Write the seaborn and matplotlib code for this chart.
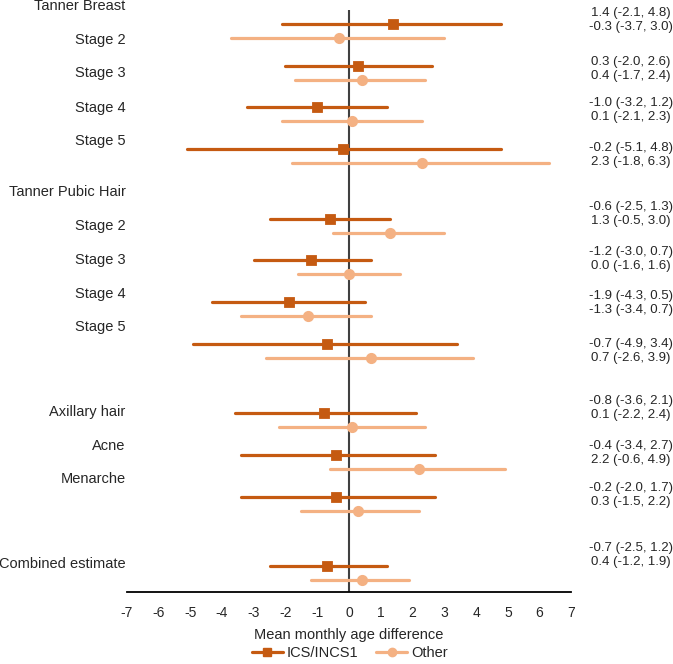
import pandas as pd
import matplotlib.pyplot as plt
import seaborn as sns
from matplotlib.lines import Line2D
from matplotlib import transforms

# row labels on the left
side_labels = ['Tanner Breast', 'Stage 2', 'Stage 3', 'Stage 4', 'Stage 5',
               'Tanner Pubic Hair', 'Stage 2', 'Stage 3', 'Stage 4', 'Stage 5',
               'Axillary hair', 'Acne', 'Menarche', 'Combined estimate']

# group of each plotted row (Tanner breast x4, pubic hair x4, others x3, combined)
row_group = [0, 0, 0, 0, 1, 1, 1, 1, 2, 2, 2, 3]

# ICS/INCS1 estimates as drawn
ics_est = [1.4, 0.3, -1.0, -0.2, -0.6, -1.2, -1.9, -0.7, -0.8, -0.4, -0.4, -0.7]
ics_lo = [-2.1, -2.0, -3.2, -5.1, -2.5, -3.0, -4.3, -4.9, -3.6, -3.4, -3.4, -2.5]
ics_hi = [4.8, 2.6, 1.2, 4.8, 1.3, 0.7, 0.5, 3.4, 2.1, 2.7, 2.7, 1.2]

# Other estimates
oth_est = [-0.3, 0.4, 0.1, 2.3, 1.3, 0.0, -1.3, 0.7, 0.1, 2.2, 0.3, 0.4]
oth_lo = [-3.7, -1.7, -2.1, -1.8, -0.5, -1.6, -3.4, -2.6, -2.2, -0.6, -1.5, -1.2]
oth_hi = [3.0, 2.4, 2.3, 6.3, 3.0, 1.6, 0.7, 3.9, 2.4, 4.9, 2.2, 1.9]

# text column on the right
ics_text = ['1.4 (-2.1, 4.8)', '0.3 (-2.0, 2.6)', '-1.0 (-3.2, 1.2)', '-0.2 (-5.1, 4.8)',
            '-0.6 (-2.5, 1.3)', '-1.2 (-3.0, 0.7)', '-1.9 (-4.3, 0.5)', '-0.7 (-4.9, 3.4)',
            '-0.8 (-3.6, 2.1)', '-0.4 (-3.4, 2.7)', '-0.2 (-2.0, 1.7)', '-0.7 (-2.5, 1.2)']
oth_text = ['-0.3 (-3.7, 3.0)', '0.4 (-1.7, 2.4)', '0.1 (-2.1, 2.3)', '2.3 (-1.8, 6.3)',
            '1.3 (-0.5, 3.0)', '0.0 (-1.6, 1.6)', '-1.3 (-3.4, 0.7)', '0.7 (-2.6, 3.9)',
            '0.1 (-2.2, 2.4)', '2.2 (-0.6, 4.9)', '0.3 (-1.5, 2.2)', '0.4 (-1.2, 1.9)']

# layout (row units)
side_label_y = [-0.43, 0.38, 1.18, 2.01, 2.81, 4.03, 4.84, 5.66, 6.47, 7.27,
                9.30, 10.12, 10.91, 12.95]
text_y = [-0.27, 0.90, 1.89, 2.98, 4.39, 5.47, 6.52, 7.68, 9.05, 10.12, 11.12, 12.56]
pair_offset = 0.336
group_gap = 0.667

dark = '#C55A11'
light = '#F4B183'

sns.set_style('white')
plt.rcParams['font.family'] = ['Liberation Sans', 'DejaVu Sans']
plt.rcParams['axes.unicode_minus'] = False

# long form: three values per row so median = estimate, min/max = CI
records = []
for i, g in enumerate(row_group):
    ypos = i + group_gap * g
    for v in (ics_lo[i], ics_est[i], ics_hi[i]):
        records.append({'y': ypos, 'x': v, 'series': 'ICS/INCS1'})
    for v in (oth_lo[i], oth_est[i], oth_hi[i]):
        records.append({'y': ypos + pair_offset, 'x': v, 'series': 'Other'})
df = pd.DataFrame(records)

fig = plt.figure(figsize=(6.73, 6.64), dpi=100)
ax = fig.add_axes([0.188, 0.1084, 0.661, 0.8765])

ax.axvline(0, color='#404040', lw=1.5, zorder=1)

sns.pointplot(data=df, x='x', y='y', hue='series', orient='h', native_scale=True,
              estimator='median', errorbar=lambda v: (v.min(), v.max()),
              palette=[dark, light], markers=['s', 'o'], linestyle='none',
              markersize=6, err_kws={'linewidth': 2.3}, legend=False, ax=ax)

ax.set_xlim(-7, 7)
ax.set_ylim(13.62, -0.336)
ax.set_xticks(range(-7, 8))
ax.set_yticks([])
ax.set_ylabel('')
ax.set_xlabel('Mean monthly age difference', fontsize=10.5, labelpad=6)
ax.tick_params(axis='x', length=0, pad=10, labelsize=10)
for s in ['top', 'left', 'right']:
    ax.spines[s].set_visible(False)
ax.spines['bottom'].set_color('black')
ax.spines['bottom'].set_linewidth(1.3)

# left labels
left_tr = transforms.blended_transform_factory(ax.transAxes, ax.transData)
for lab, yy in zip(side_labels, side_label_y):
    ax.text(-0.002, yy, lab, transform=left_tr, ha='right', va='center',
            fontsize=10.5, clip_on=False)

# right value labels
right_tr = transforms.blended_transform_factory(fig.transFigure, ax.transData)
for t1, t2, yy in zip(ics_text, oth_text, text_y):
    ax.text(0.9376, yy, t1, transform=right_tr, ha='center', va='center',
            fontsize=9.5, clip_on=False)
    ax.text(0.9376, yy + pair_offset, t2, transform=right_tr, ha='center',
            va='center', fontsize=9.5, clip_on=False)

handles = [Line2D([], [], color=dark, lw=2.3, marker='s', markersize=6),
           Line2D([], [], color=light, lw=2.3, marker='o', markersize=6)]
fig.legend(handles, ['ICS/INCS1', 'Other'], loc='center', ncol=2,
           bbox_to_anchor=(0.52, 0.017), frameon=False, fontsize=10.5,
           handlelength=2.1, handletextpad=0.3, columnspacing=1.2,
           borderpad=0.2)

fig.savefig('out.png', dpi=100)
